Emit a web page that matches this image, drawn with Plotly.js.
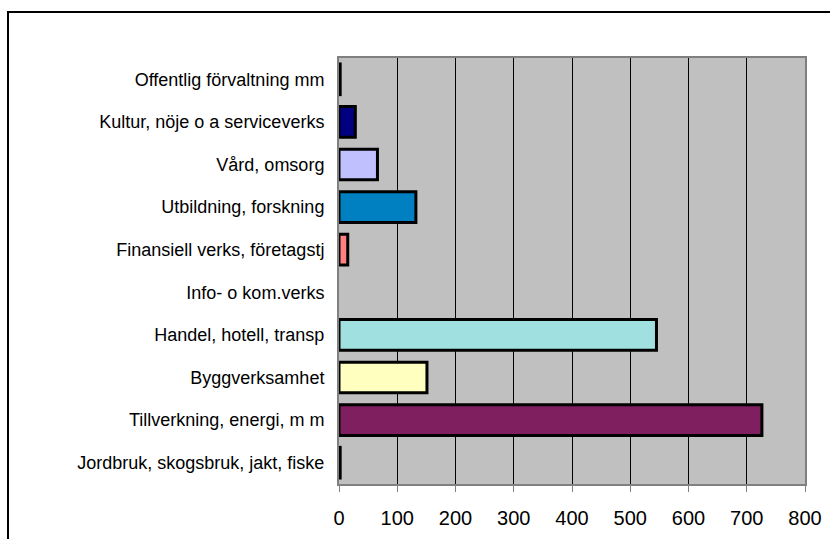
<!DOCTYPE html>
<html>
<head>
<meta charset="utf-8">
<script src="https://cdn.plot.ly/plotly-3.0.1.min.js"></script>
<style>
html,body{margin:0;padding:0;background:#fff;}
#chart{width:830px;height:539px;}
</style>
</head>
<body>
<div id="chart"></div>
<script>
// Categories listed bottom to top
const categories = [
  "Jordbruk, skogsbruk, jakt, fiske",
  "Tillverkning, energi, m m",
  "Byggverksamhet",
  "Handel, hotell, transp",
  "Info- o kom.verks",
  "Finansiell verks, företagstj",
  "Utbildning, forskning",
  "Vård, omsorg",
  "Kultur, nöje o a serviceverks",
  "Offentlig förvaltning mm"
];
const values = [2, 726, 151, 545, 0, 15, 132, 66, 28, 2];
const barColors = ["#9999FF", "#7F1F5F", "#FFFFC0", "#A0E0E0", "#660066", "#FF8080", "#0080C0", "#C0C0FF", "#000080", "#FF00FF"];
const xTicks = [0, 100, 200, 300, 400, 500, 600, 700, 800];

const trace = {
  type: "bar",
  orientation: "h",
  y: categories,
  x: values,
  width: 0.72,
  marker: {
    color: barColors,
    line: {color: "#000000", width: values.map(v => v > 0 ? 3 : 0)}
  },
  hoverinfo: "none"
};

const layout = {
  width: 830,
  height: 539,
  margin: {l: 339, r: 25, t: 58, b: 55},
  paper_bgcolor: "#ffffff",
  plot_bgcolor: "#C0C0C0",
  showlegend: false,
  font: {family: "Liberation Sans, Arial, sans-serif", color: "#000000"},
  xaxis: {
    range: [0, 800],
    tickvals: xTicks,
    ticktext: xTicks.map(String),
    showgrid: true,
    gridcolor: "#000000",
    gridwidth: 1,
    zeroline: false,
    showline: true,
    linecolor: "#808080",
    linewidth: 2,
    mirror: true,
    ticks: "outside",
    ticklen: 6,
    tickwidth: 1,
    tickcolor: "#808080",
    tickfont: {size: 20, color: "#000000"},
    ticklabelstandoff: 9,
    fixedrange: true
  },
  yaxis: {
    type: "category",
    showgrid: false,
    zeroline: false,
    showline: true,
    linecolor: "#808080",
    linewidth: 2,
    mirror: true,
    ticks: "",
    tickfont: {size: 18, color: "#000000"},
    ticklabelstandoff: 9,
    fixedrange: true
  },
  shapes: [{
    type: "path",
    xref: "paper", yref: "paper",
    path: "M -0.7103 -0.2 L -0.7103 1.108 L 1.1 1.108",
    line: {color: "#000000", width: 2},
    layer: "above"
  }]
};

Plotly.newPlot("chart", [trace], layout, {displayModeBar: false, staticPlot: true});
</script>
</body>
</html>
